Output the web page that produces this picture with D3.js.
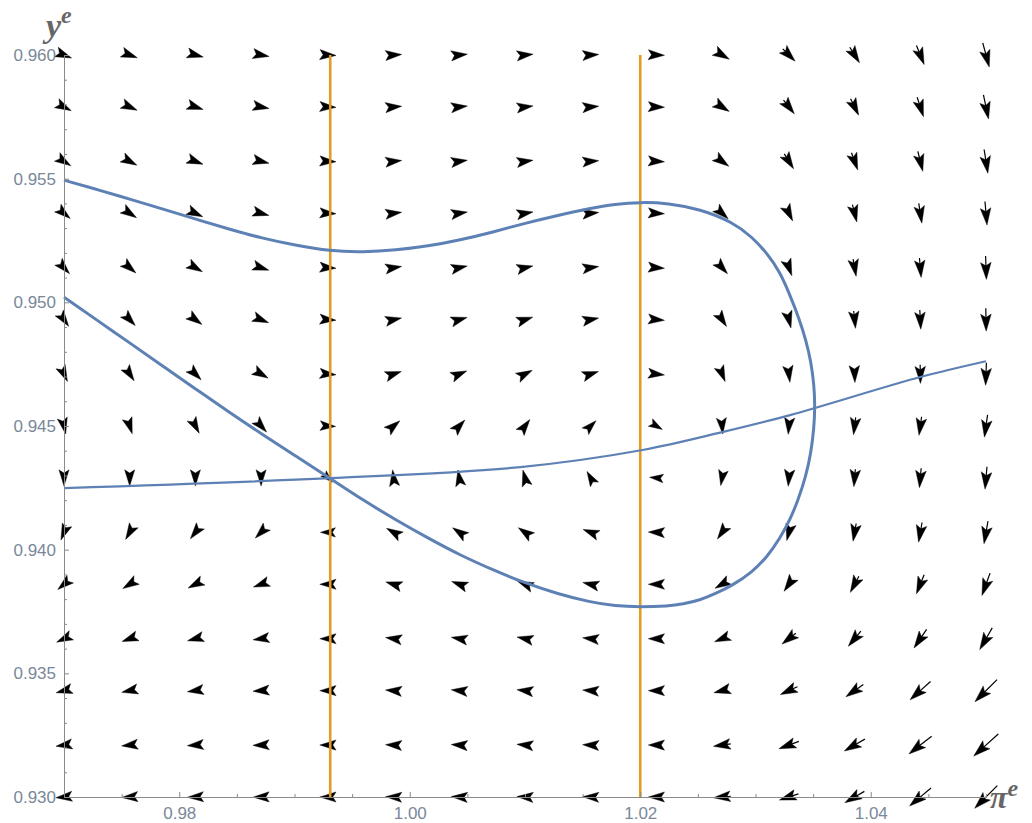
<!DOCTYPE html>
<html lang="en">
<head>
<meta charset="UTF-8" />
<title>Phase portrait</title>
<script src="https://d3js.org/d3.v7.min.js"></script>
<style>
  body { margin: 0; background: #fff; }
  .tick text { font-family: "Liberation Sans", Arial, sans-serif; font-size: 17px; fill: #7a8899; }
  .axis path, .axis line { stroke: #8a8a8a; stroke-width: 1; }
  .lab { font-family: "Liberation Serif", "DejaVu Serif", serif; font-style: italic; font-weight: bold; fill: #666; }
</style>
</head>
<body>
<svg width="1032" height="823"></svg>
<script>
// grid of the vector field
const gridPi = [0.9700, 0.9757, 0.9814, 0.9871, 0.9929, 0.9986, 1.0043, 1.0100, 1.0157, 1.0214, 1.0271, 1.0329, 1.0386, 1.0443, 1.0500];
const gridY = [0.9600, 0.9579, 0.9557, 0.9536, 0.9514, 0.9493, 0.9471, 0.9450, 0.9429, 0.9407, 0.9386, 0.9364, 0.9343, 0.9321, 0.9300];

// arrow direction in degrees (counter-clockwise from +pi axis), rows top -> bottom
const angles = [
  [-22, -20, -15, -10, -3, 4, 6, 6, 4, -2, -30, -45, -58, -68, -75],
  [-27, -24, -18, -11, -3, 5, 6, 7, 5, -2, -32, -52, -64, -72, -78],
  [-33, -28, -21, -13, -3, 6, 8, 8, 5, -3, -36, -58, -70, -76, -81],
  [-40, -33, -25, -15, -3, 7, 9, 10, 6, -3, -42, -64, -76, -81, -85],
  [-47, -40, -30, -18, -4, 9, 12, 13, 8, -4, -48, -70, -80, -85, -88],
  [-55, -47, -36, -22, -4, 12, 16, 18, 11, -5, -57, -76, -84, -87, -89],
  [-65, -57, -45, -30, -5, 18, 23, 27, 18, -6, -68, -83, -88, -89, -92],
  [-78, -72, -62, -48, -3, 40, 47, 53, 45, -30, -85, -95, -97, -98, -98],
  [-90, -90, -90, -90, -45, 97, 100, 105, 120, 175, -100, -95, -95, -95, -95],
  [-112, -120, -128, -135, 180, 150, 146, 145, 159, 178, -125, -105, -100, -100, -100],
  [-140, -148, -153, -160, 180, 163, 160, 158, 167, 180, -150, -125, -118, -112, -110],
  [-155, -160, -165, -172, 180, 172, 170, 168, 174, 180, -158, -142, -130, -124, -120],
  [-165, -168, -172, -176, 180, 175, 174, 173, 176, 180, -166, -155, -145, -138, -135],
  [-172, -174, -176, -178, 180, 177, 176, 175, 177, 180, -172, -160, -150, -142, -138],
  [-175, -177, -178, -179, 180, 178, 177, 177, 178, 180, -175, -162, -150, -140, -135]
];

// relative magnitude of each vector, rows top -> bottom
const magnitudes = [
  [.25, .25, .25, .25, .25, .25, .25, .25, .25, .25, .27, .30, .33, .42, .60],
  [.25, .25, .25, .25, .25, .25, .25, .25, .25, .25, .27, .30, .33, .42, .58],
  [.25, .25, .25, .25, .25, .25, .25, .25, .25, .25, .27, .30, .33, .42, .56],
  [.25, .25, .25, .25, .25, .25, .25, .25, .25, .25, .25, .28, .32, .40, .55],
  [.25, .25, .25, .25, .25, .25, .25, .25, .25, .25, .25, .28, .30, .38, .54],
  [.25, .25, .25, .25, .25, .25, .25, .25, .25, .25, .25, .28, .30, .37, .52],
  [.25, .25, .25, .25, .25, .25, .25, .25, .25, .25, .25, .27, .28, .35, .50],
  [.25, .25, .25, .25, .22, .25, .25, .25, .20, .15, .25, .27, .30, .35, .50],
  [.25, .25, .25, .25, .10, .25, .25, .25, .20, .15, .22, .27, .30, .38, .50],
  [.25, .25, .25, .25, .20, .25, .25, .25, .25, .25, .25, .27, .32, .40, .52],
  [.25, .25, .25, .25, .25, .25, .25, .25, .25, .25, .25, .28, .33, .42, .55],
  [.25, .25, .25, .25, .25, .25, .25, .25, .25, .25, .25, .30, .38, .50, .60],
  [.25, .25, .25, .25, .25, .25, .25, .25, .25, .25, .27, .35, .45, .70, .85],
  [.25, .25, .25, .25, .25, .25, .25, .25, .25, .25, .30, .45, .55, .75, .92],
  [.25, .25, .25, .25, .25, .25, .25, .25, .25, .25, .30, .40, .50, .72, .88]
];

// closed-ish blue curve, traced from the upper left, round the right side, back to the lower left
const loopPi = [
  0.97000, 0.97312, 0.97573, 0.97859, 0.98145, 0.98432, 0.98718, 0.99004, 0.99308, 0.99594,
  0.99881, 1.00158, 1.00436, 1.00722, 1.01000, 1.01286, 1.01564, 1.01781, 1.01998, 1.02241,
  1.02518, 1.02805, 1.02970, 1.03100, 1.03213, 1.03299, 1.03377, 1.03438, 1.03482, 1.03508,
  1.03516, 1.03508, 1.03482, 1.03438, 1.03369, 1.03299, 1.03213, 1.03100, 1.02970, 1.02805,
  1.02649, 1.02518, 1.02371, 1.02241, 1.01998, 1.01781, 1.01564, 1.01286, 1.01000, 1.00722,
  1.00436, 1.00158, 0.99881, 0.99594, 0.99308, 0.99013, 0.98718, 0.98432, 0.98145, 0.97859,
  0.97573, 0.97286, 0.97000
];
const loopY = [
  0.95494, 0.95453, 0.95417, 0.95377, 0.95336, 0.95296, 0.95259, 0.95231, 0.95207, 0.95203,
  0.95211, 0.95227, 0.95252, 0.95284, 0.95320, 0.95352, 0.95380, 0.95397, 0.95405, 0.95401,
  0.95377, 0.95324, 0.95264, 0.95199, 0.95122, 0.95029, 0.94936, 0.94847, 0.94758, 0.94665,
  0.94584, 0.94492, 0.94394, 0.94298, 0.94200, 0.94120, 0.94047, 0.93970, 0.93909, 0.93857,
  0.93821, 0.93796, 0.93780, 0.93772, 0.93768, 0.93772, 0.93788, 0.93821, 0.93865, 0.93918,
  0.93978, 0.94047, 0.94120, 0.94200, 0.94289, 0.94378, 0.94467, 0.94556, 0.94649, 0.94742,
  0.94835, 0.94928, 0.95021
];

// nearly flat blue curve
const flatPi = [0.9700, 0.9931, 1.0096, 1.0202, 1.0271, 1.0330, 1.0443, 1.0500];
const flatY = [0.94249, 0.94289, 0.94334, 0.94403, 0.94475, 0.94544, 0.94698, 0.94762];

// orange vertical lines
const vLines = [0.9931, 1.0200];

const yMajor = [0.930, 0.935, 0.940, 0.945, 0.950, 0.955, 0.960];
const xMajor = [0.98, 1.00, 1.02, 1.04];

const svg = d3.select("svg");
const x = d3.scaleLinear().domain([0.97, 1.05]).range([64, 986]);
const y = d3.scaleLinear().domain([0.93, 0.96]).range([797, 55]);
const len = d3.scaleLinear().domain([0, 1]).range([10, 35]);

// vector field
const cells = [];
angles.forEach((row, r) => row.forEach((a, c) => {
  cells.push({ px: gridPi[c], py: gridY[r], a: a, m: magnitudes[r][c] });
}));

const headL = 17, headW = 5.3;
const arrows = svg.append("g").selectAll("g")
  .data(cells)
  .join("g")
  .attr("transform", d => `translate(${x(d.px)},${y(d.py)}) rotate(${-d.a})`);

arrows.each(function(d) {
  const L = len(d.m);
  const g = d3.select(this);
  const h = Math.min(L, headL);
  const k = h / headL;
  const tip = L / 2;
  if (L > headL) {
    g.append("line")
      .attr("x1", -L / 2).attr("y1", 0)
      .attr("x2", tip - h * 0.7).attr("y2", 0)
      .attr("stroke", "#000").attr("stroke-width", 1.2);
  }
  g.append("path")
    .attr("d", `M${tip},0 L${tip - h},${-headW * k} L${tip - h * 0.8},0 L${tip - h},${headW * k}Z`)
    .attr("fill", "#000")
    .attr("stroke", "#000").attr("stroke-width", 0.4).attr("stroke-linejoin", "round");
});

// orange lines
svg.append("g").selectAll("line")
  .data(vLines)
  .join("line")
  .attr("x1", d => x(d)).attr("x2", d => x(d))
  .attr("y1", y(0.93)).attr("y2", y(0.96))
  .attr("stroke", "#E19C24").attr("stroke-width", 2.6);

// blue curves
const smooth = d3.line().x(d => x(d[0])).y(d => y(d[1])).curve(d3.curveBasis);
const line = d3.line().x(d => x(d[0])).y(d => y(d[1])).curve(d3.curveCatmullRom.alpha(0.5));
svg.append("path")
  .datum(loopPi.map((p, i) => [p, loopY[i]]))
  .attr("d", smooth)
  .attr("fill", "none").attr("stroke", "#5E81B5").attr("stroke-width", 3);
svg.append("path")
  .datum(flatPi.map((p, i) => [p, flatY[i]]))
  .attr("d", line)
  .attr("fill", "none").attr("stroke", "#5E81B5").attr("stroke-width", 2.2);

// axes
const yMinor = d3.range(930, 961).map(v => v / 1000).filter(v => !yMajor.some(m => Math.abs(m - v) < 1e-9));
const xMinor = d3.range(194, 211).map(v => v / 200).filter(v => !xMajor.some(m => Math.abs(m - v) < 1e-9));

svg.append("g").attr("class", "axis")
  .attr("transform", "translate(64,0)")
  .call(d3.axisLeft(y).tickValues(yMinor).tickFormat("").tickSizeInner(-3).tickSizeOuter(0));
svg.append("g").attr("class", "axis")
  .attr("transform", "translate(64,0)")
  .call(d3.axisLeft(y).tickValues(yMajor).tickFormat(d3.format(".3f")).tickSizeInner(-5).tickSizeOuter(0).tickPadding(8));

svg.append("g").attr("class", "axis")
  .attr("transform", "translate(0,797)")
  .call(d3.axisBottom(x).tickValues(xMinor).tickFormat("").tickSizeInner(-3).tickSizeOuter(0));
svg.append("g").attr("class", "axis")
  .attr("transform", "translate(0,797)")
  .call(d3.axisBottom(x).tickValues(xMajor).tickFormat(d3.format(".2f")).tickSizeInner(-5).tickSizeOuter(0).tickPadding(10));

// axis labels
const yl = svg.append("text").attr("class", "lab").attr("x", 46).attr("y", 37).attr("font-size", 34);
yl.append("tspan").text("y");
yl.append("tspan").attr("font-size", 24).attr("dy", -14).text("e");

const xl = svg.append("text").attr("class", "lab").attr("x", 990).attr("y", 808).attr("font-size", 32);
xl.append("tspan").text("π");
xl.append("tspan").attr("font-size", 24).attr("dy", -12).text("e");
</script>
</body>
</html>
